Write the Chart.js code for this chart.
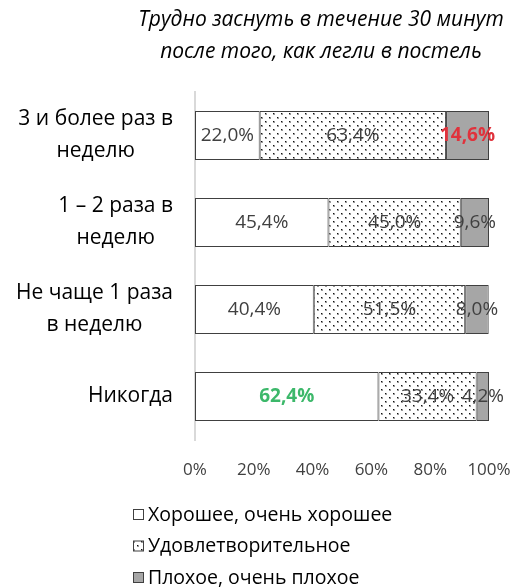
<!DOCTYPE html>
<html>
<head>
<meta charset="utf-8">
<script src="https://cdn.jsdelivr.net/npm/chart.js@4"></script>
<style>
body{margin:0;background:#fff}
#wrap{width:521px;height:587px}
</style>
</head>
<body>
<div id="wrap"><canvas id="chart" width="521" height="587"></canvas></div>
<script>
let titleLines=["Трудно заснуть в течение 30 минут","после того, как легли в постель"]
let categories=[["3 и более раз в","неделю"],["1 – 2 раза в","неделю"],["Не чаще 1 раза","в неделю"],["Никогда"]]
let seriesNames=["Хорошее, очень хорошее","Удовлетворительное","Плохое, очень плохое"]
let good=[22.0,45.4,40.4,62.4]
let ok=[63.4,45.0,51.5,33.4]
let bad=[14.6,9.6,8.0,4.2]
let xTicks=[0,20,40,60,80,100]

// special label colours (bold)
let highlight={"2-0":"#e0323c","0-3":"#3cb86a"}

let FONT="'Open Sans', 'Noto Sans', sans-serif"
let TXT="#404040"

function dots(){
let c=document.createElement("canvas")
c.width=8;c.height=8
let x=c.getContext("2d")
x.fillStyle="#fff";x.fillRect(0,0,8,8)
x.fillStyle="#999"
x.fillRect(1,1,2,2)
x.fillRect(5,5,2,2)
x.fillStyle="#111"
x.fillRect(1,1,1,1)
x.fillRect(5,5,1,1)
return x.createPattern(c,"repeat")
}
let dotPattern=dots()

let fills=["#ffffff",dotPattern,"#a6a6a6"]

let textPlugin={
id:"texts",
afterDatasetsDraw(chart){
let ctx=chart.ctx
ctx.save()
// data labels
chart.data.datasets.forEach((ds,di)=>{
chart.getDatasetMeta(di).data.forEach((bar,i)=>{
let key=di+"-"+i
let v=ds.data[i].toFixed(1).replace(".",",")+"%"
let cx=(bar.x+bar.base)/2
ctx.font=(highlight[key]?"bold ":"")+"19px "+FONT
ctx.fillStyle=highlight[key]||TXT
ctx.textAlign="center"
ctx.textBaseline="middle"
ctx.fillText(v,cx,bar.y)
})
})
// category labels
let ys=chart.scales.y
ctx.font="21px "+FONT
ctx.fillStyle="#000"
categories.forEach((lines,i)=>{
let cy=ys.getPixelForValue(i)
let w=Math.max(...lines.map(l=>ctx.measureText(l).width))
let right=173
let lh=32
lines.forEach((l,j)=>{
ctx.textAlign="center"
ctx.textBaseline="middle"
ctx.fillText(l,right-w/2,cy+(j-(lines.length-1)/2)*lh)
})
})
// title
ctx.font="italic 21px "+FONT
ctx.fillStyle="#000"
titleLines.forEach((l,j)=>{
ctx.textAlign="center"
ctx.fillText(l,321,20+j*32)
})
// legend
ctx.font="19.5px "+FONT
seriesNames.forEach((n,j)=>{
let y=515+j*31.5
ctx.fillStyle=fills[j]
ctx.fillRect(133,y-6,11,11)
ctx.strokeStyle="#404040"
ctx.lineWidth=1
ctx.strokeRect(133.5,y-5.5,10,10)
ctx.fillStyle="#000"
ctx.textAlign="left"
ctx.fillText(n,148,y)
})
ctx.restore()
}
}

new Chart(document.getElementById("chart"),{
type:"bar",
data:{
labels:categories,
datasets:seriesNames.map((n,i)=>({
label:n,
data:[good,ok,bad][i],
backgroundColor:fills[i],
borderColor:"#404040",
borderWidth:1,
borderSkipped:false,
barPercentage:0.565,
categoryPercentage:1
}))
},
options:{
responsive:false,
animation:false,
indexAxis:"y",
layout:{padding:{left:195,right:32,top:92,bottom:107}},
plugins:{legend:{display:false},title:{display:false},tooltip:{enabled:false}},
scales:{
x:{
stacked:true,min:0,max:100,
afterFit(s){s.height=40;s.paddingLeft=0;s.paddingRight=0},
afterBuildTicks(s){s.ticks=xTicks.map(v=>({value:v}))},
grid:{display:false,drawTicks:false},
border:{display:false},
ticks:{padding:20,color:TXT,font:{family:FONT,size:17},callback:v=>v+"%"}
},
y:{
stacked:true,
afterFit(s){s.width=0;s.paddingTop=0;s.paddingBottom=0},
grid:{display:false,drawTicks:false},
border:{display:true,color:"#d9d9d9",width:2},
ticks:{display:false}
}
}
},
plugins:[textPlugin]
})
</script>
</body>
</html>
